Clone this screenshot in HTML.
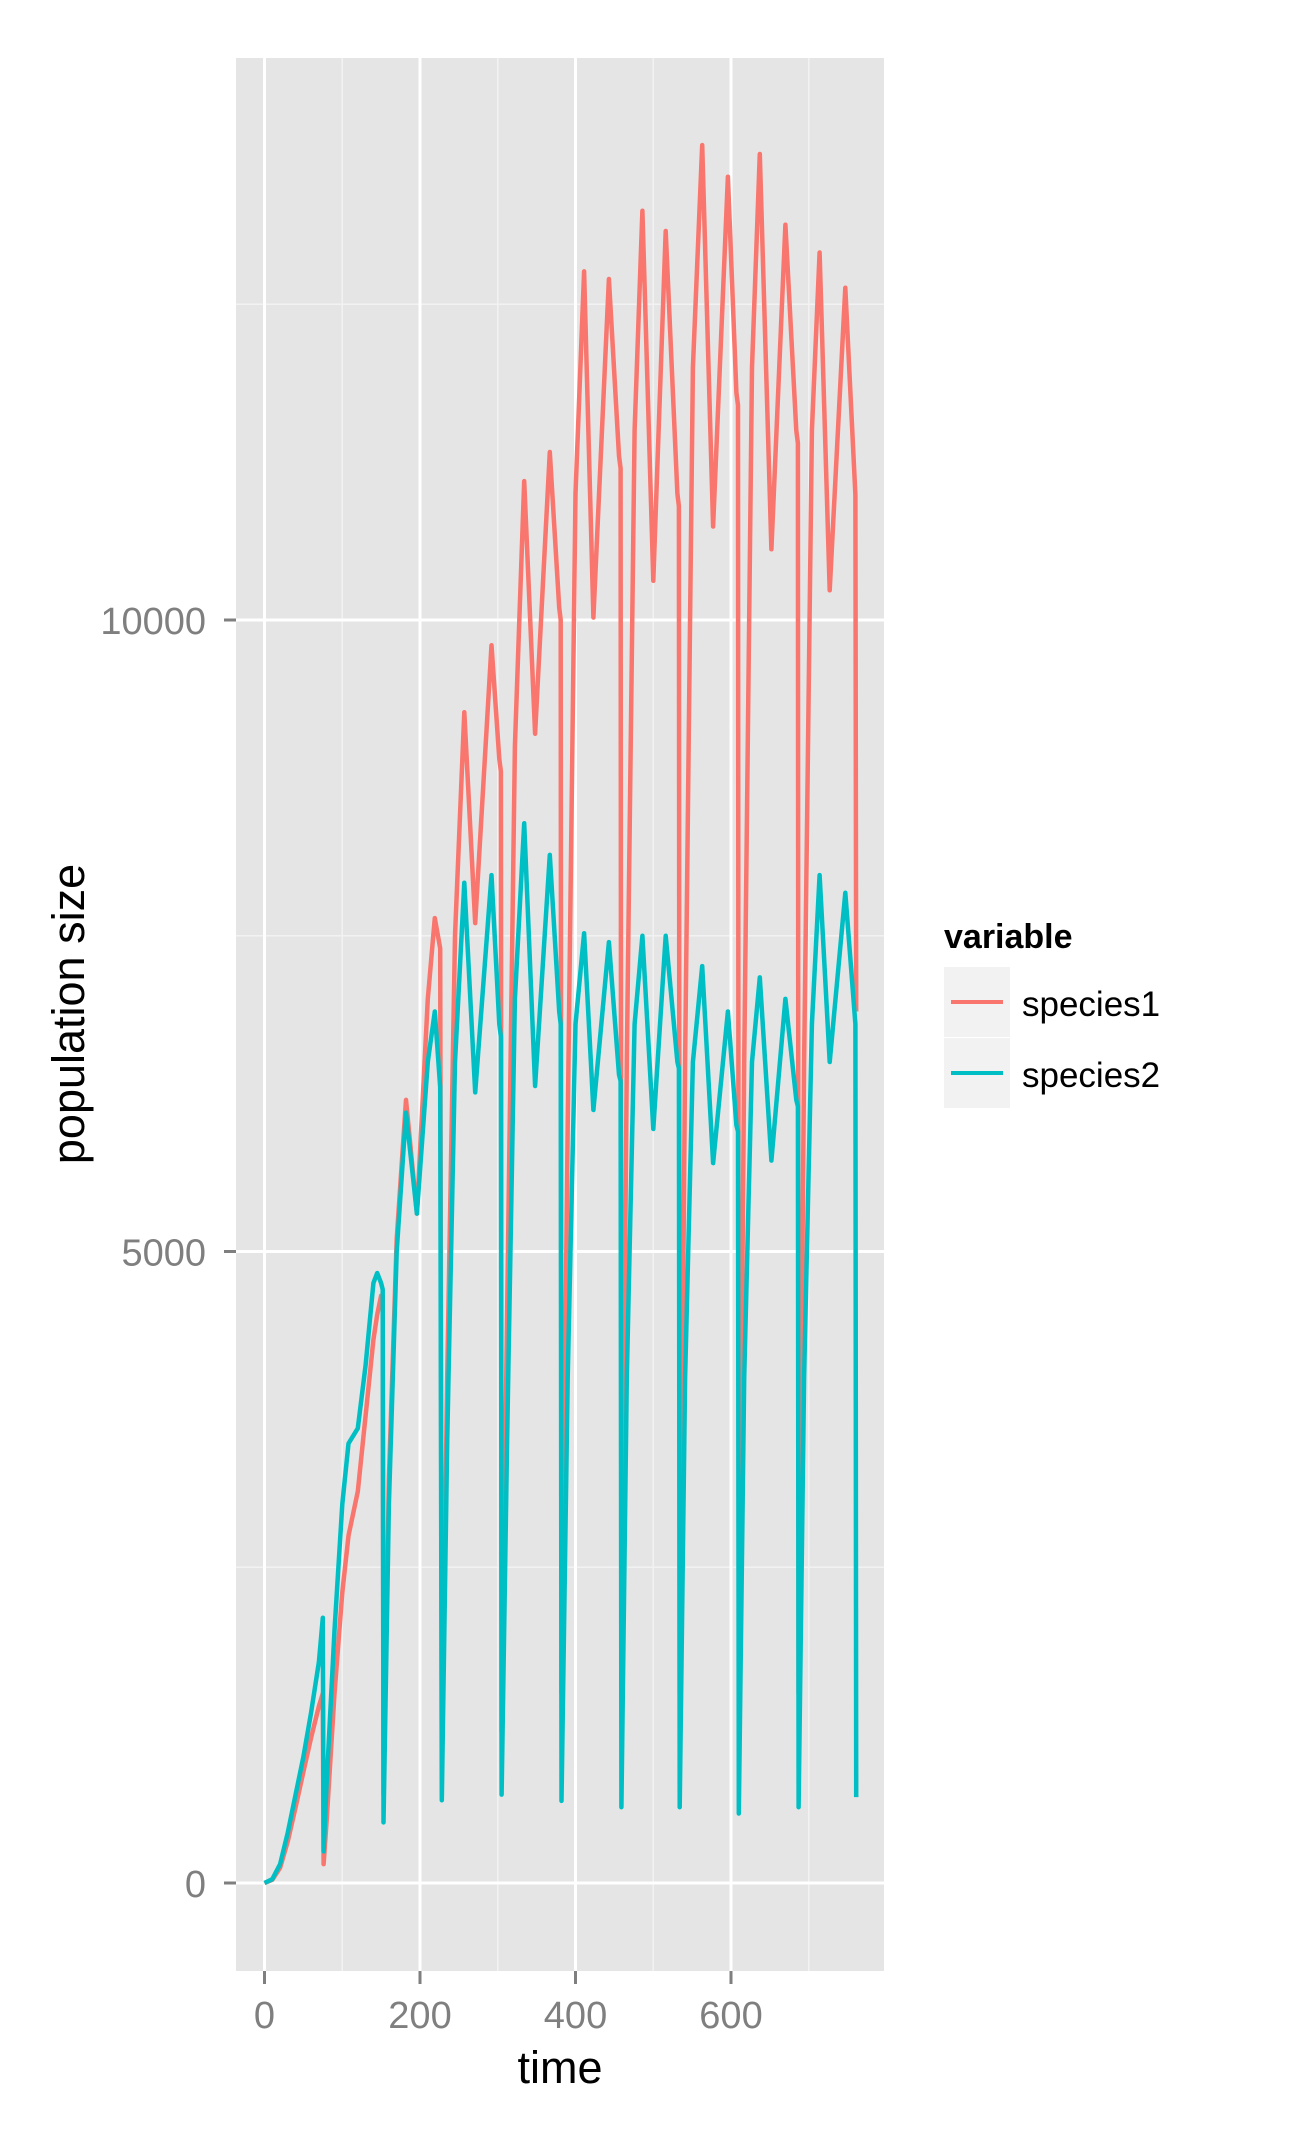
<!DOCTYPE html>
<html><head><meta charset="utf-8"><style>
html,body{margin:0;padding:0;background:#fff;}
svg{display:block;font-family:"Liberation Sans",sans-serif;}
</style></head><body>
<svg id="chart" width="1300" height="2129" viewBox="0 0 1300 2129">
<rect x="236" y="58" width="648" height="1913" fill="#E5E5E5"/>
<g id="grid"></g>
<g id="axes"></g>
<g id="lines"></g>
<text x="560" y="2083" font-size="45" text-anchor="middle" fill="#000">time</text>
<text transform="translate(84,1014) rotate(-90)" font-size="45" text-anchor="middle" fill="#000">population size</text>
<g>
<text x="944" y="948" font-size="34" font-weight="bold" fill="#000">variable</text>
<g>
<rect x="944" y="967" width="66" height="70" fill="#F2F2F2"/>
<line x1="951" y1="1002" x2="1003" y2="1002" stroke="#F8766D" stroke-width="4"/>
<text x="1022" y="1016" font-size="35" fill="#000">species1</text>
</g>
<g>
<rect x="944" y="1038" width="66" height="70" fill="#F2F2F2"/>
<line x1="951" y1="1073" x2="1003" y2="1073" stroke="#00BFC4" stroke-width="4"/>
<text x="1022" y="1087" font-size="35" fill="#000">species2</text>
</g>
</g>
</svg>
<script>
const times = [0,10,20,30,40,50,60,70,75, 76,80,90,100,108,120,130,140,145,150,152, 153,160,170,182,196,210,219,226, 228,235,245,257,271,292,302,304, 305,312,322,334,348,367,379,381, 382,390,400,411,423,443,456,458, 459,466,476,486,500,516,531,533, 534,541,551,563,577,596,607,609, 610,617,627,637,652,670,684,686, 687,694,704,714,727,747,760,761];
const species1 = [0,25,120,330,600,880,1150,1400,1500, 150,500,1500,2300,2750,3100,3700,4300,4500,4650,4650, 700,3200,5100,6200,5300,7000,7640,7400, 1000,4000,7500,9270,7600,9800,8900,8800, 1200,4500,9000,11100,9100,11330,10100,10000, 1500,6000,11000,12760,10020,12700,11300,11200, 1500,6500,11500,13240,10310,13080,11000,10900, 1500,6500,12000,13760,10740,13510,11800,11700, 1500,6500,12000,13690,10560,13130,11500,11400, 1500,6500,11500,12910,10235,12630,10990,6900];
const species2 = [0,30,150,400,700,1000,1350,1750,2100, 250,800,2000,3000,3480,3600,4100,4750,4830,4750,4700, 480,3000,5000,6100,5300,6500,6900,6300, 655,3500,6500,7920,6260,7980,6800,6700, 700,3500,7000,8390,6310,8140,6900,6800, 650,4000,6800,7520,6120,7450,6400,6350, 600,4000,6800,7500,5970,7500,6500,6450, 600,4000,6500,7260,5700,6900,6000,5950, 550,4000,6500,7170,5720,7000,6200,6150, 600,4000,6800,7980,6500,7840,6800,680];
const xTicks = [0,200,400,600];
const xMinor = [100,300,500,700];
const yTicks = [0,5000,10000];
const yMinor = [2500,7500,12500];

const NS = "http://www.w3.org/2000/svg";
const PX0 = 236, PX1 = 884, PY0 = 58, PY1 = 1971;
function xs(t){ return 264.5 + t * (731 - 264.5) / 600; }
function ys(v){ return 1883 - v * (1883 - 620) / 10000; }
function mk(tag, attrs, parent){ const e = document.createElementNS(NS, tag); for (const k in attrs) e.setAttribute(k, attrs[k]); parent.appendChild(e); return e; }

const grid = document.getElementById('grid');
const axes = document.getElementById('axes');
yMinor.forEach(v => {
  const l = mk('line', {x1:PX0, x2:PX1, y1:ys(v), y2:ys(v), stroke:'#F2F2F2', 'stroke-width':1.5}, grid);
  
  
});
xMinor.forEach(t => {
  const l = mk('line', {x1:xs(t), x2:xs(t), y1:PY0, y2:PY1, stroke:'#F2F2F2', 'stroke-width':1.5}, grid);
  
  
});
yTicks.forEach(v => {
  const l = mk('line', {x1:PX0, x2:PX1, y1:ys(v), y2:ys(v), stroke:'#FFFFFF', 'stroke-width':3}, grid);
  
  
  const tk = mk('line', {x1:PX0-12, x2:PX0, y1:ys(v), y2:ys(v), stroke:'#7F7F7F', 'stroke-width':3}, axes);
  
  
  const tx = mk('text', {x:PX0-30, y:ys(v)+14, 'font-size':38, 'text-anchor':'end', fill:'#7F7F7F'}, axes);
  tx.textContent = String(v);
  
  
});
xTicks.forEach(t => {
  const l = mk('line', {x1:xs(t), x2:xs(t), y1:PY0, y2:PY1, stroke:'#FFFFFF', 'stroke-width':3}, grid);
  
  
  const tk = mk('line', {x1:xs(t), x2:xs(t), y1:PY1, y2:PY1+13, stroke:'#7F7F7F', 'stroke-width':3}, axes);
  
  
  const tx = mk('text', {x:xs(t), y:2028, 'font-size':38, 'text-anchor':'middle', fill:'#7F7F7F'}, axes);
  tx.textContent = String(t);
  
  
});

const lines = document.getElementById('lines');
function drawSeries(vals, color, name){
  const d = vals.map((v,i) => (i ? 'L' : 'M') + xs(times[i]).toFixed(1) + ' ' + ys(v).toFixed(1)).join(' ');
  const p = mk('path', {d:d, fill:'none', stroke:color, 'stroke-width':4.5, 'stroke-linejoin':'round'}, lines);
  
  
}
drawSeries(species1, '#F8766D', 'species1-line');
drawSeries(species2, '#00BFC4', 'species2-line');
</script>
</body></html>
